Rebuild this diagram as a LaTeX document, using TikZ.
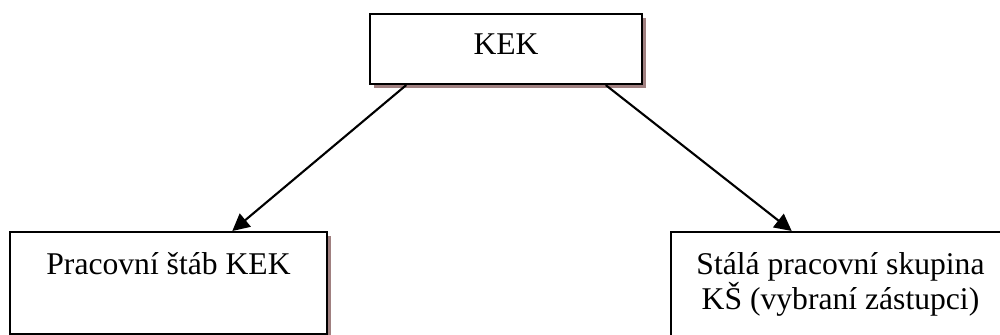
\documentclass[tikz,border=0pt]{standalone}
\usepackage{fontspec}
\setmainfont{Liberation Serif}
\usetikzlibrary{calc,shadows,arrows.meta}
\definecolor{stin}{RGB}{160,128,128}
\newcommand{\hornivzpera}{\rule{0pt}{0.84cm}}

\begin{document}
\begin{tikzpicture}
        [krabice/.style={rectangle, draw=black, line width=1.2pt, fill=white,
        inner xsep=0pt, inner ysep=0pt, align=center,
        font=\fontsize{18}{18.7}\selectfont,
        drop shadow={shadow xshift=0.08cm, shadow yshift=-0.08cm, fill=stin, opacity=1}},
        sipka/.style={line width=1.2pt, -{Triangle[length=0.34cm,width=0.34cm]}}]
        \useasboundingbox (0,0) rectangle (20,6.7);
        \clip (0,0) rectangle (20,6.7);
        %-----A
         \node[krabice, anchor=north, minimum width=5.44cm, text height=0.8cm, text depth=0.6cm]  (KEK) at (10.12,6.44) {KEK};
         \node[krabice, anchor=north, minimum width=6.34cm]  (stab) at (3.37,2.08) {\hornivzpera Pracovní štáb KEK\\ \rule[-0.54cm]{0pt}{0.54cm}};
         \node[krabice, anchor=north, minimum width=6.78cm]  (skup) at (16.81,2.08) {\hornivzpera Stálá pracovní skupina\\KŠ (vybraní zástupci)\rule[-0.8cm]{0pt}{0.8cm}};

         \draw[sipka] ($(KEK.south west)!0.136!(KEK.south east)$) -- ($(stab.north west)!0.70!(stab.north east)$);
         \draw[sipka] ($(KEK.south west)!0.864!(KEK.south east)$) -- ($(skup.north west)!0.357!(skup.north east)$);
        \end{tikzpicture}
\end{document}
